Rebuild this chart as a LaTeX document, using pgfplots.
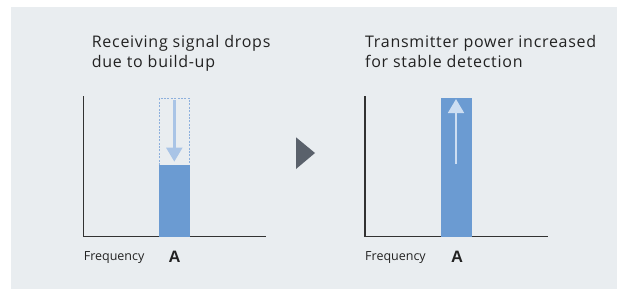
\documentclass[border=0pt]{standalone}
\usepackage{pgfplots}
\pgfplotsset{compat=1.18}
\usepackage{fontspec}
\setmainfont{Open Sans}
\newfontfamily\titlefont[LetterSpace=4.5]{Open Sans}
\newfontfamily\boldA{Liberation Sans}
\usetikzlibrary{arrows.meta}
\definecolor{panel}{RGB}{233,237,240}
\definecolor{barcol}{RGB}{107,155,210}
\definecolor{dotcol}{RGB}{141,176,221}
\definecolor{arrowL}{RGB}{169,196,230}
\definecolor{arrowR}{RGB}{205,222,242}
\definecolor{axiscol}{RGB}{50,50,50}
\definecolor{tri}{RGB}{90,97,107}
\definecolor{txt}{RGB}{34,34,34}
\begin{document}
\begin{tikzpicture}[x=1pt,y=1pt]
\fill[white] (0,0) rectangle (617,290);
\fill[panel] (11,1.5) rectangle (617,283.3);
\pgfplotsset{
  panelaxis/.style={
    scale only axis, width=183pt, height=140.7pt,
    xmin=0, xmax=183, ymin=0, ymax=140.7,
    axis x line=bottom, axis y line=left,
    axis line style={-, draw=axiscol, line width=1.1pt},
    xtick=\empty, ytick=\empty, clip=false,
    anchor=south west,
  }
}
% Left panel
\begin{axis}[panelaxis, at={(83.3pt,53.3pt)}]
\addplot[draw=dotcol, line width=1.1pt, dash pattern=on 2pt off 1.4pt]
  coordinates {(75.9,71.7) (75.9,138.4) (106.2,138.4) (106.2,71.7)};
\addplot[ybar, bar width=30.7pt, fill=barcol, draw=none] coordinates {(91,71.7)};
\addplot[draw=arrowL, line width=2.7pt, -{Triangle[width=15.7pt,length=14pt]}]
  coordinates {(91,136.5) (91,75)};
\end{axis}
% Right panel
\begin{axis}[panelaxis, at={(365pt,53.3pt)}]
\addplot[ybar, bar width=31pt, fill=barcol, draw=none] coordinates {(91.5,138.7)};
\addplot[draw=arrowR, line width=2.7pt, -{Triangle[width=15.7pt,length=14pt]}]
  coordinates {(91,72.7) (91,137.7)};
\end{axis}
% triangle between panels
\fill[tri] (296,152.7) -- (315,137) -- (296,121) -- cycle;
% titles
\begin{scope}[every node/.style={inner sep=0pt, anchor=base west, text=txt}]
\node at (91.7,243) {\titlefont\fontsize{16}{19}\selectfont Receiving signal drops};
\node at (91.7,222.7) {\titlefont\fontsize{16}{19}\selectfont due to build-up};
\node at (365,243) {\titlefont\fontsize{16}{19}\selectfont Transmitter power increased};
\node at (365,222.7) {\titlefont\fontsize{16}{19}\selectfont for stable detection};
\node at (83.6,29.3) {\fontsize{12.5}{15}\selectfont Frequency};
\node at (365,29.3) {\fontsize{12.5}{15}\selectfont Frequency};
\node at (168.5,27.3) {\boldA\bfseries\fontsize{16.5}{18}\selectfont A};
\node at (451,27.3) {\boldA\bfseries\fontsize{16.5}{18}\selectfont A};
\end{scope}
\pgfresetboundingbox
\useasboundingbox (0,0) rectangle (617,290);
\end{tikzpicture}
\end{document}
